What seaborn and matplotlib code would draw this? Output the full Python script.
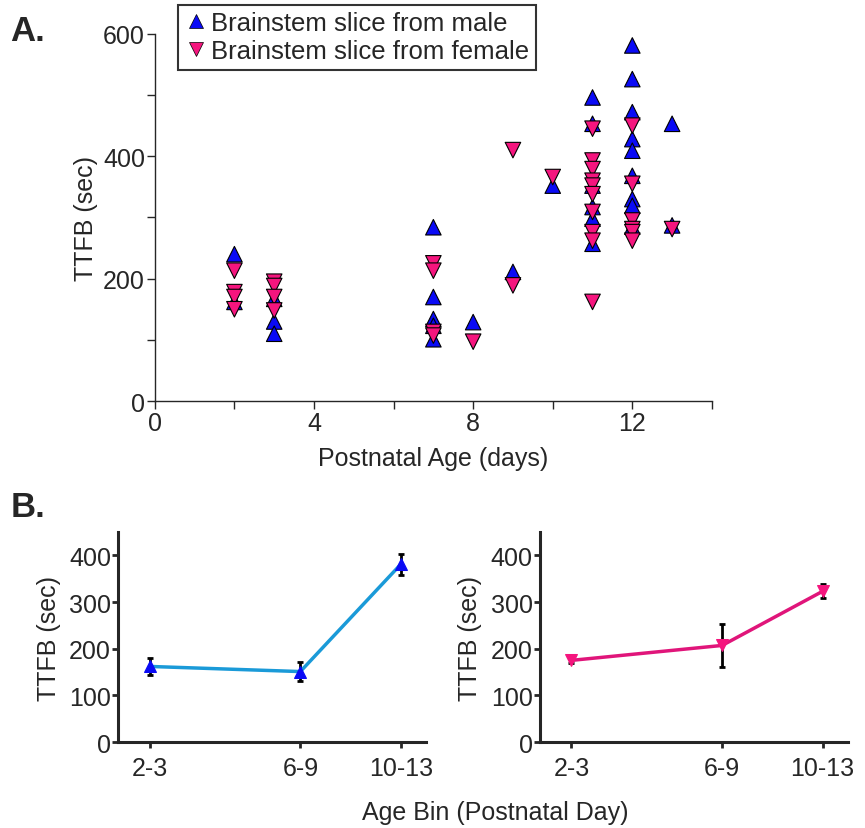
import numpy as np
import pandas as pd
import matplotlib
matplotlib.use("Agg")
import matplotlib.pyplot as plt
from matplotlib.lines import Line2D
import seaborn as sns

# panel A: time to first burst per slice, by postnatal age (days)
male_age = [2, 2, 3, 3, 3, 7, 7, 7, 7, 7, 8, 9, 10,
            11, 11, 11, 11, 11, 11,
            12, 12, 12, 12, 12, 12, 12, 12, 12, 13, 13]
male_ttfb = [240, 162, 167, 130, 110, 284, 170, 134, 123, 101, 129, 211, 352,
             496, 453, 352, 317, 298, 257,
             581, 526, 472, 428, 409, 368, 330, 319, 285, 453, 287]
female_age = [2, 2, 2, 2, 3, 3, 3, 3, 7, 7, 7, 7, 8, 9, 9, 10,
              11, 11, 11, 11, 11, 11, 11, 11, 11, 11,
              12, 12, 12, 12, 12, 12, 13]
female_ttfb = [213, 178, 170, 150, 195, 188, 170, 148, 225, 213, 113, 107, 97, 410, 189, 366,
               445, 393, 379, 360, 352, 338, 309, 276, 262, 162,
               450, 355, 295, 281, 276, 262, 281]

# panel B: mean +/- sem per age bin
age_bins = ["2-3", "6-9", "10-13"]
male_mean = [162, 151, 381]
male_sem = [18, 20, 22]
female_mean = [175, 207, 323]
female_sem = [6, 47, 15]

male_lab = "Brainstem slice from male"
female_lab = "Brainstem slice from female"
blue = "#0a0af5"
pink = "#f5157e"
line_blue = "#1a9ad8"
line_pink = "#e0157a"

df = pd.concat([
    pd.DataFrame({"age": male_age, "ttfb": male_ttfb, "sex": male_lab}),
    pd.DataFrame({"age": female_age, "ttfb": female_ttfb, "sex": female_lab}),
], ignore_index=True)

sns.set_style("ticks")
plt.rcParams["font.family"] = ["Liberation Sans", "DejaVu Sans"]
fs = 18

fig = plt.figure(figsize=(8.65, 8.29), dpi=100)

# ---- panel A ----
ax = fig.add_axes([0.179, 0.515, 0.644, 0.443])
sns.scatterplot(data=df, x="age", y="ttfb", hue="sex", style="sex",
                palette={male_lab: blue, female_lab: pink},
                markers={male_lab: "^", female_lab: "v"},
                s=125, edgecolor="black", linewidth=0.8, legend=False, ax=ax)
ax.set_xlim(0, 14)
ax.set_ylim(0, 600)
ax.set_xticks(np.arange(0, 15, 2))
ax.set_xticklabels(["0", "", "4", "", "8", "", "12", ""])
ax.set_yticks(np.arange(0, 601, 100))
ax.set_yticklabels(["0", "", "200", "", "400", "", "600"])
ax.tick_params(direction="out", length=6, width=1, labelsize=fs, pad=1)
for s in ["top", "right"]:
    ax.spines[s].set_visible(False)
for s in ["left", "bottom"]:
    ax.spines[s].set_linewidth(1)
ax.set_xlabel("Postnatal Age (days)", fontsize=fs, labelpad=8)
ax.set_ylabel("TTFB (sec)", fontsize=fs, labelpad=4)

handles = [Line2D([], [], marker="^", ls="none", color=blue, mec="black", mew=0.5, ms=10),
           Line2D([], [], marker="v", ls="none", color=pink, mec="black", mew=0.5, ms=10)]
leg = ax.legend(handles, [male_lab, female_lab], loc="upper left",
                bbox_to_anchor=(178 / 865, 1 - 6 / 829), bbox_transform=fig.transFigure,
                frameon=True, fancybox=False, edgecolor="black", fontsize=18.5,
                borderpad=0.25, handletextpad=0.15, labelspacing=0.15,
                handlelength=0.9, borderaxespad=0)
leg.get_frame().set_linewidth(1.5)

fig.text(0.012, 0.982, "A.", fontsize=25, fontweight="bold", va="top")
fig.text(0.012, 0.408, "B.", fontsize=25, fontweight="bold", va="top")

# ---- panel B ----
bin_x = [0, 3, 5]
for left, means, sems, col, lcol, mk in [
        (0.1364, male_mean, male_sem, blue, line_blue, "^"),
        (0.624, female_mean, female_sem, pink, line_pink, "v")]:
    bx = fig.add_axes([left, 0.1037, 0.356, 0.2533])
    sns.lineplot(x=bin_x, y=means, color=lcol, lw=2.5, marker=mk, ms=9,
                 mfc=col, mec=col, ax=bx)
    bx.errorbar(bin_x, means, yerr=sems, fmt="none", ecolor="black",
                elinewidth=2, capsize=2, capthick=2, zorder=1)
    bx.set_xlim(-0.63, 5.5)
    bx.set_ylim(0, 450)
    bx.set_xticks(bin_x)
    bx.set_xticklabels(age_bins)
    bx.set_yticks([0, 100, 200, 300, 400])
    bx.tick_params(direction="out", length=4, width=2, labelsize=fs, pad=1)
    bx.tick_params(axis="x", pad=6)
    for s in ["top", "right"]:
        bx.spines[s].set_visible(False)
    for s in ["left", "bottom"]:
        bx.spines[s].set_linewidth(2.2)
    bx.set_ylabel("TTFB (sec)", fontsize=fs, labelpad=6)

fig.text(0.572, 0.019, "Age Bin (Postnatal Day)", fontsize=fs, ha="center", va="center")

fig.savefig("out.png", dpi=100)
